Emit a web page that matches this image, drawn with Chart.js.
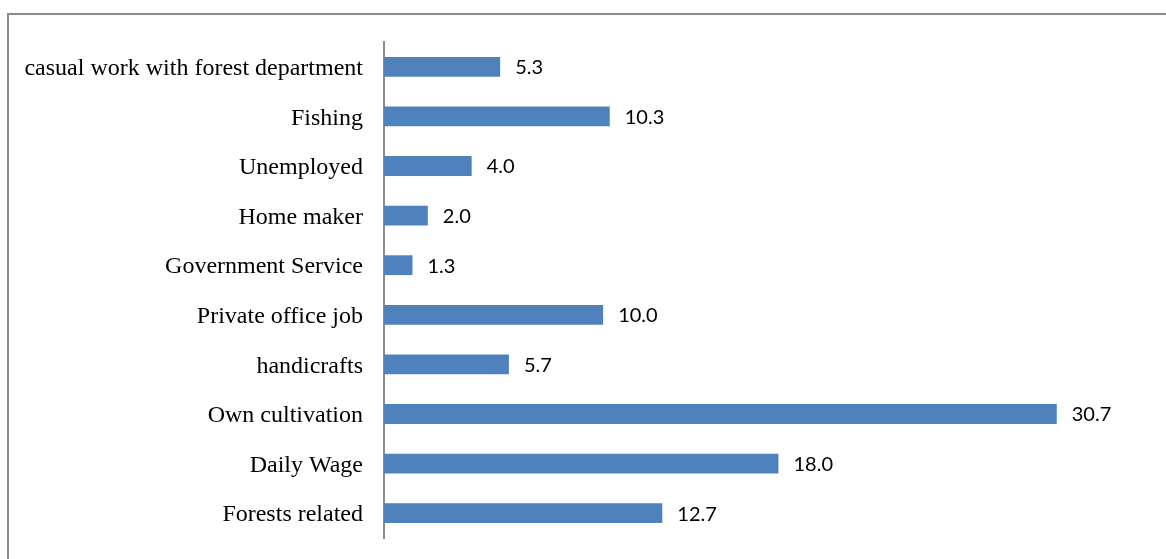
<!DOCTYPE html>
<html>
<head>
<meta charset="utf-8">
<script src="https://cdn.jsdelivr.net/npm/chart.js@4/dist/chart.umd.min.js"></script>
<style>
  html, body { margin: 0; padding: 0; background: #fff; overflow: hidden; }
  #frame {
    position: absolute; left: 7px; top: 13px; width: 1200px; height: 600px;
    border-left: 2px solid #8c8c8c; border-top: 2px solid #8c8c8c;
  }
  #wrap { position: absolute; left: 0; top: 0; width: 1166px; height: 559px; }
</style>
</head>
<body>
<div id="frame"></div>
<div id="wrap"><canvas id="occupationChart"></canvas></div>
<script>
var categories = [
  "casual work with forest department",
  "Fishing",
  "Unemployed",
  "Home maker",
  "Government Service",
  "Private office job",
  "handicrafts",
  "Own cultivation",
  "Daily Wage",
  "Forests related"
];
var percentages = [5.3, 10.3, 4.0, 2.0, 1.3, 10.0, 5.7, 30.7, 18.0, 12.7];

// writes the value just past the end of each bar
var valueLabels = {
  id: "valueLabels",
  afterDatasetsDraw: function (chart) {
    var ctx = chart.ctx;
    var meta = chart.getDatasetMeta(0);
    ctx.save();
    ctx.font = "20px Lato, 'Open Sans', sans-serif";
    ctx.fillStyle = "#000";
    ctx.textAlign = "left";
    ctx.textBaseline = "middle";
    meta.data.forEach(function (bar, i) {
      ctx.fillText(percentages[i].toFixed(1), bar.x + 15, bar.y + 1);
    });
    ctx.restore();
  }
};

var ctx = document.getElementById("occupationChart").getContext("2d");
new Chart(ctx, {
  type: "bar",
  data: {
    labels: categories,
    datasets: [
      {
        data: percentages,
        backgroundColor: "#4f81bd",
        borderWidth: 0,
        categoryPercentage: 1.0,
        barPercentage: 0.4
      }
    ]
  },
  options: {
    indexAxis: "y",
    responsive: true,
    maintainAspectRatio: false,
    animation: false,
    layout: { padding: { top: 42, bottom: 21, left: 0, right: 15 } },
    plugins: {
      legend: { display: false },
      tooltip: { enabled: false }
    },
    scales: {
      x: {
        display: false,
        min: 0,
        max: 35
      },
      y: {
        afterFit: function (scale) {
          // fixed label column; don't let label height eat into the plot
          scale.width = 384;
          scale.paddingTop = 0;
          scale.paddingBottom = 0;
        },
        grid: { display: false, drawTicks: false },
        border: { display: true, color: "#8c8c8c", width: 2 },
        ticks: {
          padding: 21,
          labelOffset: 2,
          color: "#000",
          font: { family: "'Liberation Serif', 'Times New Roman', serif", size: 24 }
        }
      }
    }
  },
  plugins: [valueLabels]
});
</script>
</body>
</html>
